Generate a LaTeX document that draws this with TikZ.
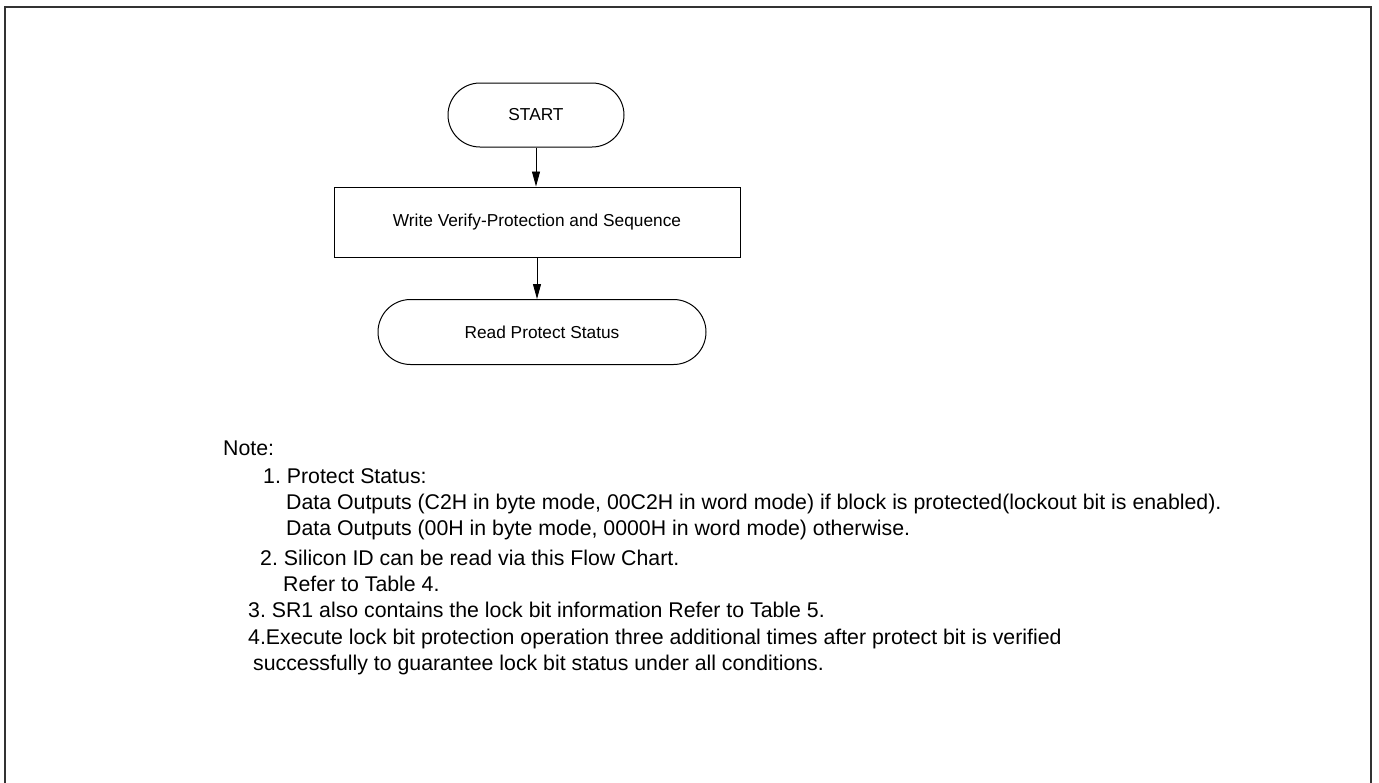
\documentclass[tikz,border=0pt]{standalone}
\usepackage{fontspec}
\setmainfont{Liberation Sans}
\usetikzlibrary{shapes.misc,arrows.meta}
\frenchspacing
\begin{document}
\begin{tikzpicture}[x=1pt,y=-1pt,
  flow/.style={draw=black,line width=1pt,font=\fontsize{17.3}{20}\selectfont,inner sep=0pt},
  term/.style={flow,rounded rectangle},
  procbox/.style={flow,rectangle},
  conn/.style={line width=0.9pt,-{Triangle[length=15pt,width=8pt]}},
  note/.style={anchor=base west,inner sep=0pt,font=\fontsize{21.3}{25}\selectfont}]
\useasboundingbox (0,0) rectangle (1379,782);
\draw[line width=2pt,draw=black!80] (5,790) -- (5,7) -- (1371,7) -- (1371,790);
\node[term,minimum width=176pt,minimum height=64pt] (start) at (536,115) {START};
\node[procbox,minimum width=406pt,minimum height=70pt] (write) at (537,222) {Write Verify-Protection and Sequence};
\node[term,minimum width=328pt,minimum height=65pt] (read) at (542,332) {Read Protect Status};
\draw[conn] (start.south) -- (start.south |- write.north);
\draw[conn] (write.south) -- (write.south |- read.north);
\node[note] (n0) at (223,455) {Note:};
\node[note] (n1) at (263,483) {1. Protect Status:};
\node[note] (n1a) at (286,509) {Data Outputs (C2H in byte mode, 00C2H in word mode) if block is protected(lockout bit is enabled).};
\node[note] (n1b) at (286,535) {Data Outputs (00H in byte mode, 0000H in word mode) otherwise.};
\node[note] (n2) at (260,565) {2. Silicon ID can be read via this Flow Chart.};
\node[note] (n2a) at (283,591) {Refer to Table 4.};
\node[note] (n3) at (248,617) {3. SR1 also contains the lock bit information Refer to Table 5.};
\node[note] (n4) at (248,644) {4.Execute lock bit protection operation three additional times after protect bit is verified};
\node[note] (n4a) at (253,670) {successfully to guarantee lock bit status under all conditions.};
\end{tikzpicture}
\end{document}
